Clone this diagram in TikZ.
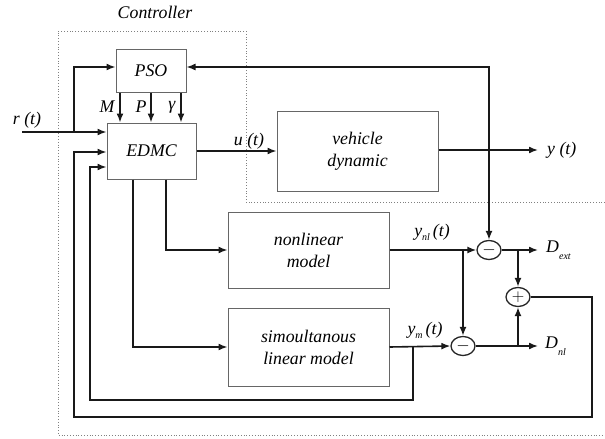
\documentclass[tikz,border=0pt]{standalone}
\usepackage{fontspec}
\setmainfont{Liberation Serif}
\usetikzlibrary{arrows.meta,shapes.geometric,calc}
\begin{document}
\begin{tikzpicture}[x=1pt,y=-1pt,
  blk/.style={draw=black!60, line width=1pt, inner sep=0pt, align=center,
    font=\itshape\fontsize{17.8}{22}\selectfont},
  sumnode/.style={ellipse, draw=black!85, line width=1.3pt, minimum width=24pt,
    minimum height=19pt, inner sep=0pt, font=\fontsize{16}{16}\selectfont},
  arr/.style={-{Latex[length=9pt,width=7pt]}, line width=1.6pt, draw=black!90},
  lbl/.style={font=\itshape\fontsize{17.8}{20}\selectfont, inner sep=0pt},
  frame/.style={draw=black!50, line width=0.8pt, dotted}]
\useasboundingbox (0,0) rectangle (605,439);

% controller frame
\draw[frame] (605,202) -- (246,202) -- (246,31) -- (58,31) -- (58,435) -- (605,435);
\node[lbl] (ctl) at (155,12) {Controller};

% blocks
\node[blk, minimum width=70pt, minimum height=43pt] (pso) at (151,70.5) {PSO};
\node[blk, minimum width=89pt, minimum height=56pt] (edmc) at (151.5,151) {EDMC};
\node[blk, minimum width=161pt, minimum height=80pt] (veh) at (357.5,151) {vehicle\\dynamic};
\node[blk, minimum width=161pt, minimum height=76pt] (nl) at (308.5,250) {nonlinear\\model};
\node[blk, minimum width=161pt, minimum height=78pt] (lin) at (308.5,347) {simoultanous\\linear model};

\node[sumnode] (m1) at (489,250) {$-$};
\node[sumnode] (pl) at (518,297) {$+$};
\node[sumnode] (m2) at (463,346) {$-$};

% coordinates
\coordinate (rin) at (22,132);
\coordinate (rb) at (74,132);
\coordinate (yout) at (538,150);
\coordinate (jy) at (489,150);
\coordinate (jn) at (463,250);
\coordinate (jm) at (413,346);
\coordinate (de) at (538,250);
\coordinate (dn) at (538,346);
\coordinate (je) at (518,250);
\coordinate (jd) at (518,346);
\coordinate (c1) at (592,417);
\coordinate (c2) at (74,152);
\coordinate (c3) at (413,400);
\coordinate (c4) at (90,167);

% labels
\node[lbl] (rl) at (27,120) {r (t)};
\node[lbl] (ul) at (249,141) {u (t)};
\node[lbl, anchor=west] (yl) at (547,150) {y (t)};
\node[lbl] (M) at (107,107) {M};
\node[lbl] (P) at (141,107) {P};
\node[lbl] (G) at (172,107) {γ};
\node[lbl] (ynl) at (432,232) {y\raisebox{-4pt}{\fontsize{10}{10}\selectfont nl}\,(t)};
\node[lbl] (ym) at (425,330) {y\raisebox{-4pt}{\fontsize{10}{10}\selectfont m}\,(t)};
\node[lbl, anchor=west] (dext) at (546,250) {D\raisebox{-7pt}{\fontsize{10}{10}\selectfont ext}};
\node[lbl, anchor=west] (dnl) at (545,346) {D\raisebox{-7pt}{\fontsize{10}{10}\selectfont nl}};

% connectors
\draw[arr] (rin) -- (rin -| edmc.west);
\draw[arr] (rb) |- ([yshift=3.5pt]pso.west);
\draw[arr] ([xshift=-31pt]pso.south) -- ([xshift=-31pt]pso.south |- edmc.north);
\draw[arr] (pso.south) -- (pso.south |- edmc.north);
\draw[arr] ([xshift=30pt]pso.south) -- ([xshift=30pt]pso.south |- edmc.north);
\draw[arr] (edmc.east) -- (edmc.east -| veh.west);
\draw[arr] (veh.east |- yout) -- (yout);
\draw[arr] (jy) |- ([yshift=3.5pt]pso.east);
\draw[arr] (jy) -- (m1.north);
\draw[arr] ([xshift=-18.5pt]edmc.south) |- (lin.west);
\draw[arr] ([xshift=14.5pt]edmc.south) |- (nl.west);
\draw[arr] (nl.east) -- (m1.west);
\draw[arr] (jn) -- (m2.north);
\draw[arr] (lin.east) -- (m2.west);
\draw[arr] (m1.east) -- (de);
\draw[arr] (m2.east) -- (dn);
\draw[arr] (je) -- (pl.north);
\draw[arr] (jd) -- (pl.south);
\draw[arr] (pl.east) -| (c1) -| (c2) -- (c2 -| edmc.west);
\draw[arr] (jm) -- (c3) -| (c4) -- (c4 -| edmc.west);
\end{tikzpicture}
\end{document}
